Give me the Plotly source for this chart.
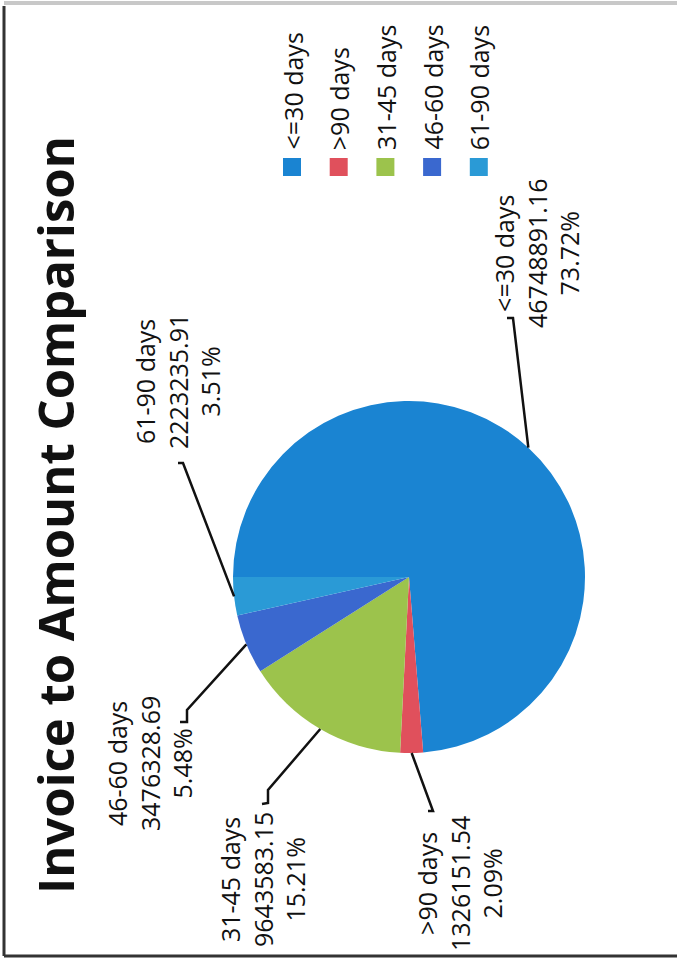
import math
import plotly.graph_objects as go

# ---- data ----
categories = ["<=30 days", ">90 days", "31-45 days", "46-60 days", "61-90 days"]
amounts = [46748891.16, 1326151.54, 9643583.15, 3476328.69, 2223235.91]
colors = ["#1a84d2", "#e0505c", "#9cc34c", "#3a68cf", "#2a9ad6"]
title_text = "Invoice to Amount Comparison"

# ---- layout helpers (pixels -> paper) ----
W, H = 677, 964
def fx(p):
    return p / W
def fy(p):
    return 1 - p / H

CX, CY, R = 409, 577, 176
START = -90  # first slice starts at 9 o'clock (rotated chart)

# label layout (pixel positions of text block centres and leader bends)
label_center = [(537, 253), (459, 884), (262, 880), (149, 764), (178, 382)]
leader_pts = [
    [(513, 318), (507, 318)],
    [(433, 811), (428, 811)],
    [(268, 790), (268, 803), (262, 804)],
    [(187, 710), (187, 722), (180, 722)],
    [(183, 463), (178, 463)],
]
legend_x0, legend_dx, legend_text_bottom, sq_top, sq_size = 292, 46.7, 152, 158, 18

FONT = "Open Sans"

fig = go.Figure()
fig.add_trace(go.Pie(
    labels=categories,
    values=amounts,
    marker=dict(colors=colors, line=dict(width=0)),
    sort=False,
    direction="clockwise",
    rotation=START,
    textinfo="none",
    hoverinfo="label+value+percent",
    showlegend=False,
    domain=dict(x=[fx(CX - R), fx(CX + R)], y=[fy(CY + R), fy(CY - R)]),
))

total = sum(amounts)
annotations = []
shapes = []

# title
annotations.append(dict(
    text="<b>" + title_text + "</b>", x=fx(55), y=fy(515), xref="paper", yref="paper",
    textangle=-90, showarrow=False, xanchor="center", yanchor="middle",
    font=dict(family=FONT, size=49, color="#111111"),
))

cum = 0.0
for i, (cat, val) in enumerate(zip(categories, amounts)):
    frac = val / total
    mid = math.radians(START + 360 * (cum + frac / 2))
    cum += frac
    tipx = CX + R * math.sin(mid)
    tipy = CY - R * math.cos(mid)
    cx, cy = label_center[i]
    annotations.append(dict(
        text=f"{cat}<br>{val:.2f}<br>{frac*100:.2f}%",
        x=fx(cx), y=fy(cy), xref="paper", yref="paper",
        textangle=-90, showarrow=False, xanchor="center", yanchor="middle",
        align="center", font=dict(family=FONT, size=25, color="#111111"),
    ))
    pts = [(tipx, tipy)] + leader_pts[i]
    path = "M " + " L ".join(f"{fx(px):.5f} {fy(py):.5f}" for px, py in pts)
    shapes.append(dict(type="path", path=path, xref="paper", yref="paper",
                       line=dict(color="#111111", width=2.5)))

    # legend entry
    lx = legend_x0 + legend_dx * i
    shapes.append(dict(type="rect", xref="paper", yref="paper",
                       x0=fx(lx - sq_size / 2), x1=fx(lx + sq_size / 2),
                       y0=fy(sq_top + sq_size), y1=fy(sq_top),
                       fillcolor=colors[i], line=dict(width=0)))
    annotations.append(dict(
        text=cat, x=fx(lx), y=fy(legend_text_bottom), xref="paper", yref="paper",
        textangle=-90, showarrow=False, xanchor="center", yanchor="bottom",
        font=dict(family=FONT, size=25, color="#111111"),
    ))

# scanned page border
shapes.append(dict(type="line", xref="paper", yref="paper", x0=fx(4), x1=fx(4), y0=fy(956), y1=fy(6),
                   line=dict(color="#333333", width=3)))
shapes.append(dict(type="line", xref="paper", yref="paper", x0=fx(4), x1=1, y0=fy(956), y1=fy(956),
                   line=dict(color="#333333", width=3)))
shapes.append(dict(type="line", xref="paper", yref="paper", x0=fx(4), x1=1, y0=fy(3), y1=fy(3),
                   line=dict(color="#c8c8c8", width=4)))

fig.update_layout(
    width=W, height=H,
    margin=dict(l=0, r=0, t=0, b=0),
    paper_bgcolor="white", plot_bgcolor="white",
    annotations=annotations, shapes=shapes,
    showlegend=False,
)
fig.write_html(
    "out.html",
    config={"displayModeBar": False},
    post_script="document.body.style.margin='0px';document.body.style.overflow='hidden';",
)
